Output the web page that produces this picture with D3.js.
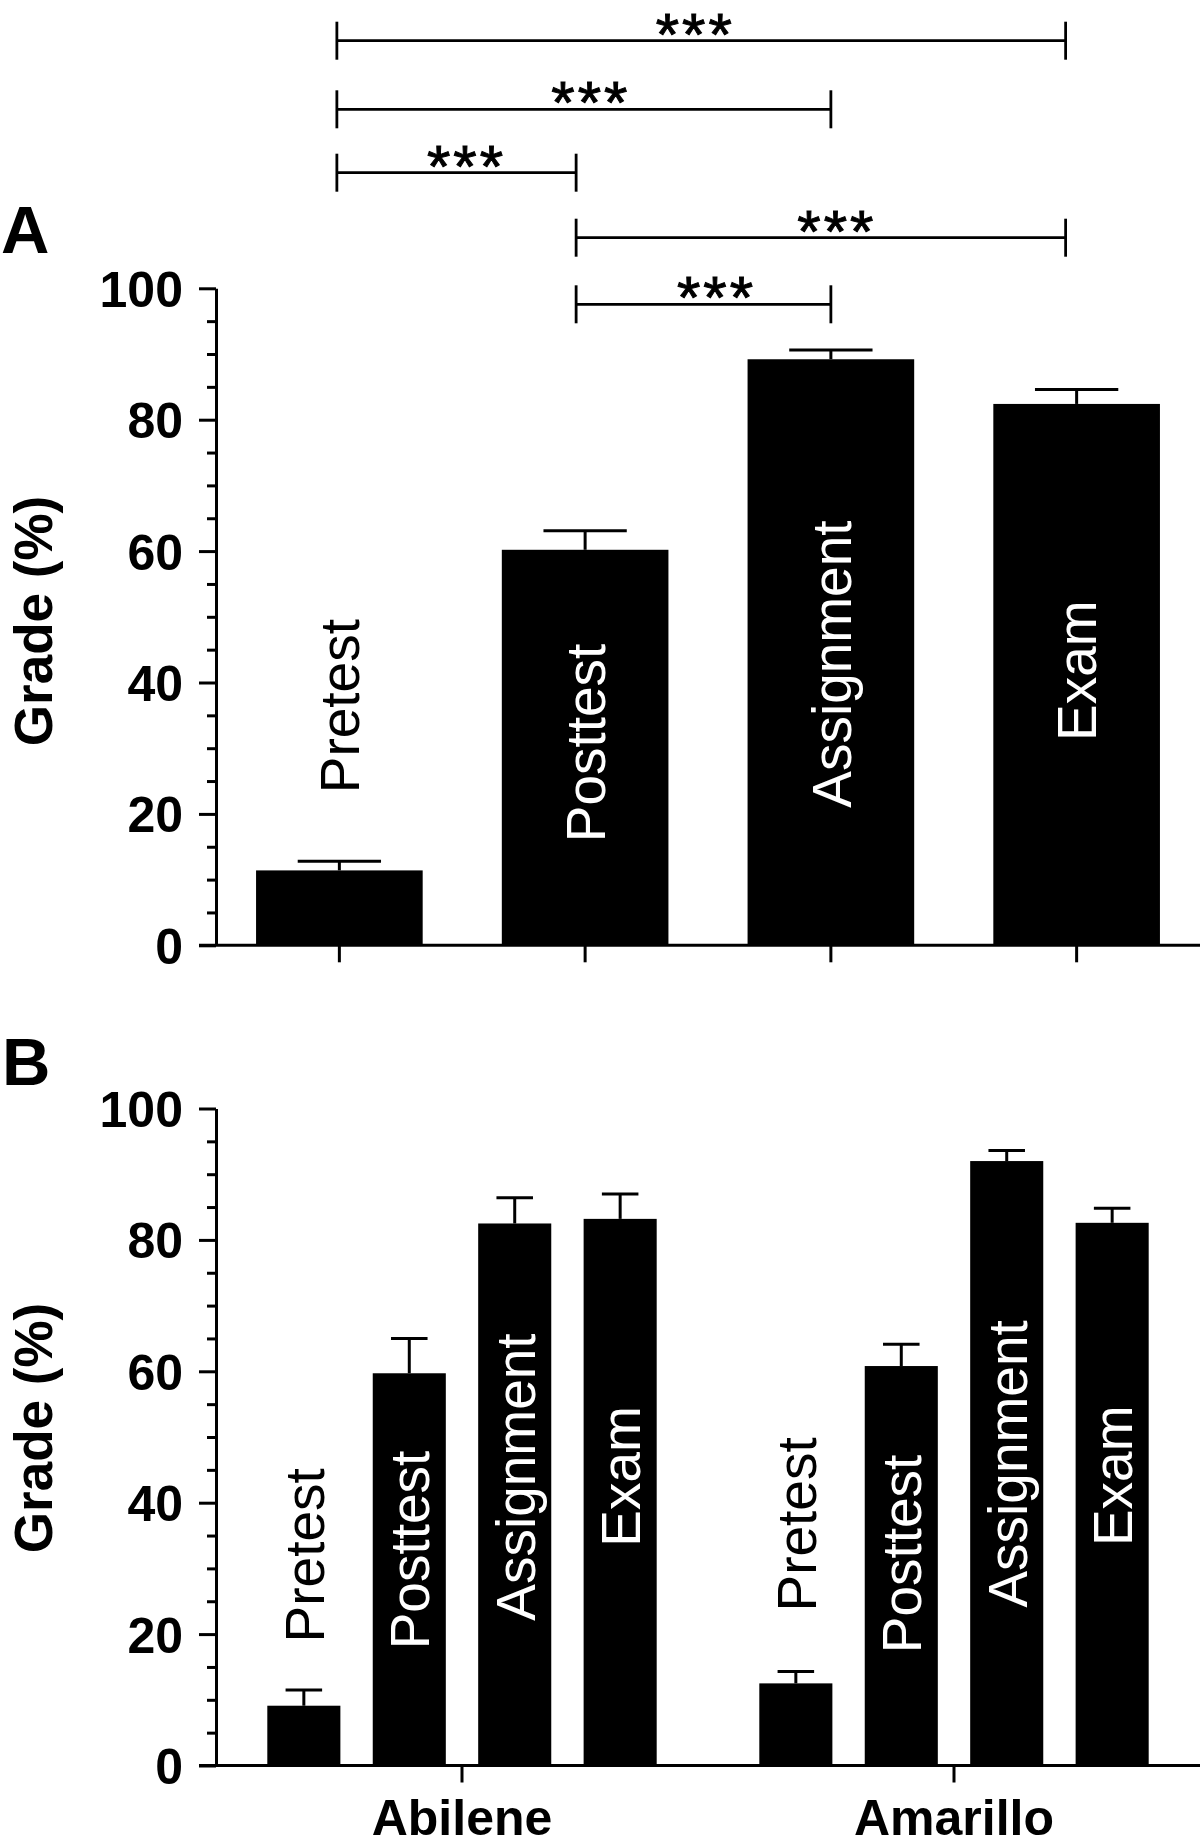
<!DOCTYPE html>
<html>
<head>
<meta charset="utf-8">
<script src="https://cdn.jsdelivr.net/npm/d3@7/dist/d3.min.js"></script>
<style>
  html, body { margin: 0; padding: 0; background: #fff; }
  svg { display: block; font-family: "Liberation Sans", Arial, Helvetica, sans-serif; }
</style>
</head>
<body>
<svg id="chart" width="1200" height="1846"></svg>
<script>
// ---------------- DATA ----------------
const categories = ["Pretest", "Posttest", "Assignment", "Exam"];
const gradeA = [11.4, 60.2, 89.2, 82.4];
const semA = [1.4, 2.9, 1.4, 2.2];

const sites = ["Abilene", "Amarillo"];
const gradeAbilene = [9.1, 59.7, 82.5, 83.2];
const semAbilene = [2.4, 5.3, 3.9, 3.8];
const gradeAmarillo = [12.5, 60.8, 92.0, 82.6];
const semAmarillo = [1.8, 3.3, 1.6, 2.2];

const yTicks = [0, 20, 40, 60, 80, 100];
const yMinorTicks = [5, 10, 15, 25, 30, 35, 45, 50, 55, 65, 70, 75, 85, 90, 95];

const comparisons = [
  ["Pretest", "Exam"],
  ["Pretest", "Assignment"],
  ["Pretest", "Posttest"],
  ["Posttest", "Exam"],
  ["Posttest", "Assignment"]
];
const compLabels = ["***", "***", "***", "***", "***"];

// label vertical centres (in grade units) for the rotated bar labels
const labelMidA = [36.4, 30.8, 42.8, 41.8];
const labelMidAbilene = [32.0, 32.8, 43.9, 44.0];
const labelMidAmarillo = [36.7, 32.2, 45.9, 44.1];

// ---------------- LAYOUT ----------------
const L = {
  axisX: 216, rightX: 1200,
  A: { y0: 945.3, y100: 288.3 },
  B: { y0: 1765.5, y100: 1108.5 },
  majorTick: 17, minorTick: 9, xTick: 17,
  tickFont: 50, labelFont: 55, titleFont: 53, panelFont: 67,
  stroke: 3,
  bracketY: [40.7, 109.3, 172.7, 237.7, 304.3],
  bracketHalf: 19,
  bracketNudge: { Pretest: -2.5, Posttest: -9, Assignment: 0, Exam: -11 },
  starDx: [-6, 7, 10, 16, 13],
  starFont: 60,
  starDy: 14
};

const svg = d3.select("#chart");

function drawYAxis(g, y) {
  const major = d3.axisLeft(y).tickValues(yTicks).tickSize(L.majorTick).tickPadding(16).tickSizeOuter(0);
  const ga = g.append("g").attr("transform", `translate(${L.axisX},0)`).call(major);
  ga.selectAll("text").attr("font-size", L.tickFont).attr("font-weight", "bold")
    .attr("font-family", "'Liberation Sans', Arial, sans-serif").attr("fill", "#000").attr("dy", "0.36em");
  ga.selectAll("line").attr("stroke", "#000").attr("stroke-width", L.stroke);
  ga.select(".domain").attr("stroke", "#000").attr("stroke-width", L.stroke);
  const minor = d3.axisLeft(y).tickValues(yMinorTicks).tickSize(L.minorTick).tickFormat("").tickSizeOuter(0);
  const gm = g.append("g").attr("transform", `translate(${L.axisX},0)`).call(minor);
  gm.select(".domain").remove();
  gm.selectAll("line").attr("stroke", "#000").attr("stroke-width", L.stroke);
}

function drawTitle(g, cy, text) {
  g.append("text")
    .attr("transform", `translate(52,${cy}) rotate(-90)`)
    .attr("text-anchor", "middle")
    .attr("font-size", L.titleFont).attr("font-weight", "bold")
    .text(text);
}

function drawBars(g, xs, y, cats, vals, sems, mids, offset) {
  const bw = xs.bandwidth();
  const data = cats.map((c, i) => ({ c, v: vals[i], e: sems[i], m: mids[i] }));
  const bg = g.append("g");
  // error bars (upper only)
  bg.selectAll("line.err").data(data).enter().append("line")
    .attr("x1", d => offset + xs(d.c) + bw / 2).attr("x2", d => offset + xs(d.c) + bw / 2)
    .attr("y1", d => y(d.v)).attr("y2", d => y(d.v + d.e))
    .attr("stroke", "#000").attr("stroke-width", L.stroke);
  bg.selectAll("line.cap").data(data).enter().append("line")
    .attr("x1", d => offset + xs(d.c) + bw / 4).attr("x2", d => offset + xs(d.c) + bw * 3 / 4)
    .attr("y1", d => y(d.v + d.e)).attr("y2", d => y(d.v + d.e))
    .attr("stroke", "#000").attr("stroke-width", L.stroke);
  bg.selectAll("rect").data(data).enter().append("rect")
    .attr("x", d => offset + xs(d.c)).attr("width", bw)
    .attr("y", d => y(d.v)).attr("height", d => y(0) - y(d.v))
    .attr("fill", "#000");
  bg.selectAll("text").data(data).enter().append("text")
    .attr("transform", d => `translate(${offset + xs(d.c) + bw / 2},${y(d.m)}) rotate(-90)`)
    .attr("text-anchor", "middle").attr("dy", "0.36em")
    .attr("font-size", L.labelFont)
    .attr("fill", d => d.m > d.v ? "#000" : "#fff")
    .text(d => d.c);
}

function drawXAxis(g, y, scale, labels) {
  const ax = d3.axisBottom(scale).tickSize(L.xTick).tickSizeOuter(0).tickPadding(17);
  if (!labels) ax.tickFormat("");
  const ga = g.append("g").attr("transform", `translate(0,${y(0)})`).call(ax);
  ga.select(".domain").remove();
  ga.selectAll("line").attr("stroke", "#000").attr("stroke-width", L.stroke);
  ga.selectAll("text").attr("font-size", L.tickFont).attr("font-weight", "bold")
    .attr("font-family", "'Liberation Sans', Arial, sans-serif").attr("fill", "#000");
  g.append("line").attr("x1", L.axisX - L.majorTick).attr("x2", L.rightX)
    .attr("y1", y(0)).attr("y2", y(0)).attr("stroke", "#000").attr("stroke-width", L.stroke);
}

// ---------------- PANEL A ----------------
const gA = svg.append("g");
const yA = d3.scaleLinear().domain([0, 100]).range([L.A.y0, L.A.y100]);
const xA = d3.scaleBand().domain(categories).range([L.axisX, L.rightX]).paddingInner(0.322).paddingOuter(0.163);

drawBars(gA, xA, yA, categories, gradeA, semA, labelMidA, 0);
drawXAxis(gA, yA, xA, false);
drawYAxis(gA, yA);
drawTitle(gA, 621, "Grade (%)");
gA.append("text").attr("x", 1).attr("y", 253).attr("font-size", L.panelFont).attr("font-weight", "bold").text("A");

// significance brackets
const centerA = c => xA(c) + xA.bandwidth() / 2 + L.bracketNudge[c];
comparisons.forEach((pair, i) => {
  const x1 = centerA(pair[0]), x2 = centerA(pair[1]), yy = L.bracketY[i];
  const bgp = gA.append("g").attr("stroke", "#000").attr("stroke-width", 2.8);
  bgp.append("line").attr("x1", x1).attr("x2", x2).attr("y1", yy).attr("y2", yy);
  bgp.append("line").attr("x1", x1).attr("x2", x1).attr("y1", yy - L.bracketHalf).attr("y2", yy + L.bracketHalf);
  bgp.append("line").attr("x1", x2).attr("x2", x2).attr("y1", yy - L.bracketHalf).attr("y2", yy + L.bracketHalf);
  gA.append("text").attr("x", (x1 + x2) / 2 + L.starDx[i]).attr("y", yy + L.starDy)
    .attr("text-anchor", "middle").attr("font-size", L.starFont)
    .attr("letter-spacing", 3)
    .attr("stroke", "#000").attr("stroke-width", 1).text(compLabels[i]);
});

// ---------------- PANEL B ----------------
const gB = svg.append("g");
const yB = d3.scaleLinear().domain([0, 100]).range([L.B.y0, L.B.y100]);
const xG = d3.scaleBand().domain(sites).range([L.axisX, L.rightX]).paddingInner(0.2).paddingOuter(0.1);
const xIn = d3.scaleBand().domain(categories).range([0, xG.bandwidth()]).paddingInner(0.307).paddingOuter(0.02);

drawBars(gB, xIn, yB, categories, gradeAbilene, semAbilene, labelMidAbilene, xG("Abilene"));
drawBars(gB, xIn, yB, categories, gradeAmarillo, semAmarillo, labelMidAmarillo, xG("Amarillo"));
drawXAxis(gB, yB, xG, true);
drawYAxis(gB, yB);
drawTitle(gB, 1428, "Grade (%)");
gB.append("text").attr("x", 2).attr("y", 1085).attr("font-size", L.panelFont).attr("font-weight", "bold").text("B");
</script>
</body>
</html>
